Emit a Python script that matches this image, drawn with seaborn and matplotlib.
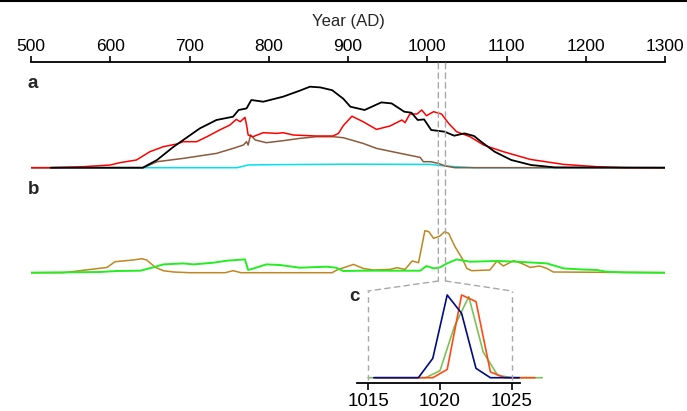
import numpy as np
import pandas as pd
import seaborn as sns
import matplotlib.pyplot as plt
from matplotlib.patches import ConnectionPatch
from matplotlib.lines import Line2D

# ---- data (arbitrary density units) ----
# panel a
years_black = [525, 641, 659, 680, 713, 734, 755, 762, 772, 778, 793, 818, 839, 852, 865, 880,
               894, 903, 921, 942, 955, 971, 980, 988, 996, 1005, 1022, 1034, 1047, 1059, 1068,
               1085, 1106, 1131, 1161, 1300]
black = [0, 0, 7.7, 21, 39.3, 47.7, 51, 57.7, 59.3, 67.7, 66, 71, 77, 81, 80.3, 77.5,
         69, 61, 57.7, 65.3, 64.3, 56, 55, 47.7, 48.3, 37.7, 36, 32, 34.3, 31.7, 26,
         16, 7.7, 2.7, 0.3, 0]

years_red = [500, 524, 566, 600, 612, 633, 650, 667, 684, 692, 709, 722, 738, 751, 759, 764,
             770, 772, 774, 780, 793, 810, 818, 831, 860, 881, 888, 894, 905, 919, 936, 953,
             968, 972, 978, 987, 993, 999, 1008, 1018, 1027, 1037, 1054, 1071, 1096, 1130,
             1172, 1214, 1250, 1300]
red = [0, 0, 1, 2.7, 5, 7.7, 16, 21, 23.7, 26, 26, 31, 37.7, 42.7, 48.3, 46,
       50.3, 42.7, 32.7, 31, 35, 34.3, 35, 32.7, 31.7, 31.7, 34.3, 42, 51.5, 46, 38.3, 41.7,
       47.7, 45, 53.7, 53.7, 57.7, 52, 56, 53.7, 44.3, 36, 31, 22.7, 16, 8.3,
       3.3, 1, 0, 0]

years_brown = [500, 642, 659, 692, 734, 755, 768, 772, 774, 777, 783, 797, 818, 839, 860, 881,
               894, 919, 936, 962, 991, 995, 1004, 1014, 1023, 1035, 1300]
brown = [0, 0, 6, 9.3, 14.3, 19.3, 22.7, 26, 22.7, 32.7, 27.7, 25, 27, 29.3, 31, 31,
         30, 24.3, 19.3, 15, 10.3, 6, 6, 4.3, 1.7, 0, 0]

years_cyan = [500, 760, 774, 800, 900, 1004, 1014, 1035, 1060, 1302]
cyan = [0, 0, 2.7, 3, 3.5, 3.3, 2.3, 1, 0, 0]

# panel b
years_olive = [500, 541, 562, 596, 606, 629, 640, 646, 657, 667, 680, 700, 745, 755, 765, 880,
               886, 907, 919, 932, 953, 962, 972, 981, 989, 997, 1002, 1008, 1016, 1022, 1027,
               1035, 1044, 1050, 1056, 1079, 1088, 1096, 1109, 1119, 1130, 1142, 1151, 1159, 1300]
olive = [0, 0, 2, 5.3, 11, 12.7, 14, 12.7, 5.3, 2, 0.7, 0, 0, 2, 0, 0,
         2.7, 8.3, 4.3, 2.7, 3.3, 5, 3.3, 11.7, 10, 42, 41, 34.3, 36.7, 41, 39.3,
         26, 14.3, 4.3, 2, 2.7, 11.7, 6.7, 12, 9.3, 5.3, 6.7, 4.3, 0.7, 0]

years_green = [500, 587, 608, 638, 654, 667, 692, 705, 730, 747, 770, 774, 781, 797, 814, 839,
               873, 885, 894, 919, 991, 999, 1008, 1016, 1025, 1037, 1054, 1088, 1113, 1151,
               1172, 1193, 1214, 1226, 1250, 1300]
green = [0, 0.7, 1.7, 2, 5.3, 8.3, 9.3, 8.3, 10, 12, 13.3, 2.7, 4.3, 8.3, 7.7, 5,
         6, 5, 1.7, 2, 2, 6.7, 4.3, 5.3, 9.3, 13.3, 11, 11.7, 11, 9.3,
         4.3, 3.3, 2.7, 1, 0.3, 0]

# panel c (normalised)
c_years_green = [1015, 1019, 1020, 1021, 1022, 1023, 1024, 1025, 1027.1]
c_green = [0, 0, 0.085, 0.62, 0.98, 0.31, 0.03, 0, 0]
c_years_orange = [1015.5, 1019.5, 1020.5, 1021.5, 1022.5, 1023.5, 1024.5, 1026.6]
c_orange = [0, 0, 0.10, 1.0, 0.92, 0.07, 0, 0]
c_years_blue = [1015.4, 1018.5, 1019.5, 1020.5, 1021.5, 1022.5, 1023.5, 1025.5]
c_blue = [0, 0, 0.234, 1.0, 0.778, 0.113, 0, 0]

year_ticks = list(range(500, 1301, 100))
c_ticks = [1015, 1020, 1025]
zoom_span = (1014, 1023)   # dashed guides in the main panels

sns.set_theme(style="white")
plt.rcParams['font.family'] = ['Liberation Sans', 'DejaVu Sans']

W, H = 687, 411
fig = plt.figure(figsize=(W / 100, H / 100), dpi=100)


def box(x0, y0, x1, y1):
    # pixel box (top-left origin) -> figure fraction
    return [x0 / W, 1 - y1 / H, (x1 - x0) / W, (y1 - y0) / H]


ax_a = fig.add_axes(box(31, 62, 665, 170))
ax_b = fig.add_axes(box(31, 170, 665, 281))
ax_c = fig.add_axes(box(357, 291, 520, 383))

lw = 1.1
sns.lineplot(x=years_cyan, y=cyan, ax=ax_a, color='#00E0F0', lw=lw, estimator=None)
sns.lineplot(x=years_brown, y=brown, ax=ax_a, color='#8C5A3C', lw=lw, estimator=None)
sns.lineplot(x=years_red, y=red, ax=ax_a, color='#FF0000', lw=lw, estimator=None)
sns.lineplot(x=years_black, y=black, ax=ax_a, color='black', lw=lw + 0.2, estimator=None)

sns.lineplot(x=years_olive, y=olive, ax=ax_b, color='#BE8720', lw=lw, estimator=None)
sns.lineplot(x=years_green, y=green, ax=ax_b, color='#22EE22', lw=lw + 0.3, estimator=None)

for xs, ys, col in [(c_years_green, c_green, '#7DC15A'),
                    (c_years_orange, c_orange, '#FF4A14'),
                    (c_years_blue, c_blue, '#000C80')]:
    sns.lineplot(x=xs, y=ys, ax=ax_c, color=col, lw=lw + 0.1, estimator=None, clip_on=False)

# main axis
ax_a.set_xlim(500, 1300)
ax_a.set_ylim(-2.3, 105.7)
ax_b.set_xlim(500, 1300)
ax_b.set_ylim(-8.3, 102.7)
for ax in (ax_a, ax_b, ax_c):
    for s in ax.spines.values():
        s.set_visible(False)
    ax.set_yticks([])
    ax.set_ylabel('')
    ax.patch.set_alpha(0)

ax_a.spines['top'].set_visible(True)
ax_a.spines['top'].set_linewidth(1.3)
ax_a.spines['top'].set_color('black')
ax_a.xaxis.tick_top()
ax_a.xaxis.set_label_position('top')
ax_a.set_xticks(year_ticks)
ax_a.tick_params(axis='x', top=True, bottom=False, direction='out', length=4, width=1.2,
                 pad=2, labelsize=12.5, colors='black')
ax_a.set_xlabel('Year (AD)', fontsize=12, labelpad=9)
ax_b.set_xticks([])

# inset
ax_c.set_xlim(1014.236, 1025.556)
ax_c.set_ylim(-0.064, 1.048)
ax_c.spines['bottom'].set_visible(True)
ax_c.spines['bottom'].set_linewidth(1.3)
ax_c.spines['bottom'].set_color('black')
ax_c.set_xticks(c_ticks)
ax_c.tick_params(axis='x', bottom=True, direction='out', length=5, width=1.2, pad=2,
                 labelsize=13.5, colors='black')

dash = dict(color='#A8A8A8', lw=1.0, linestyle=(0, (4, 3)))
ax_c.vlines(c_ticks[::2], -0.03, 1.048, clip_on=False, **dash)
for xm, xc in zip(zoom_span, c_ticks[::2]):
    fig.add_artist(ConnectionPatch(xyA=(xm, 104.5), coordsA=ax_a.transData,
                                   xyB=(xm, -8.3), coordsB=ax_b.transData, **dash))
    fig.add_artist(ConnectionPatch(xyA=(xm, -8.3), coordsA=ax_b.transData,
                                   xyB=(xc, 1.048), coordsB=ax_c.transData, **dash))

# panel letters
fig.text(27 / W, 1 - 83 / H, 'a', fontsize=13.5, fontweight='heavy', va='center')
fig.text(28 / W, 1 - 189 / H, 'b', fontsize=13.5, fontweight='heavy', va='center')
fig.text(349 / W, 1 - 296 / H, 'c', fontsize=13.5, fontweight='heavy', va='center')

# rule across the top
fig.add_artist(Line2D([0, 1], [1 - 1.5 / H] * 2, transform=fig.transFigure, color='black', lw=1.5))

fig.savefig('out.png', dpi=100)
